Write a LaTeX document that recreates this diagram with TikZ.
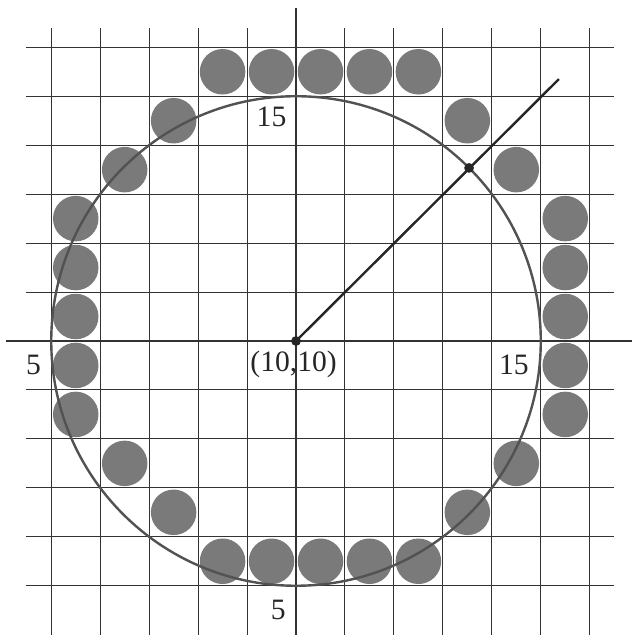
\documentclass[tikz,border=0pt]{standalone}
\usepackage{fontspec}
\setmainfont{Liberation Serif}
\begin{document}
\begin{tikzpicture}[x=1cm,y=1cm,
  gridline/.style={draw=black!80,line width=0.6pt},
  circ/.style={draw=black!68,line width=1.4pt},
  pix/.style={circle,fill=black!52,inner sep=0pt,minimum size=0.93cm},
  blackdot/.style={circle,fill=black!85,inner sep=0pt,minimum size=0.2cm},
  lab/.style={font=\fontsize{17.2}{19}\selectfont,inner sep=0pt,text=black!85}]
\useasboundingbox (3.953,3.994) rectangle (16.844,16.966);
% grid
\foreach \i in {5,...,16} {
  \draw[gridline] (\i,3.9) -- (\i,16.39);
  \draw[gridline] (4.48,\i) -- (16.49,\i);
}
\draw[gridline] (10,3.9) -- (10,16.81);
\draw[gridline] (4.08,10) -- (16.9,10);
% pixel dots
\foreach \x/\y [count=\k] in {8.5/15.5,9.5/15.5,10.5/15.5,11.5/15.5,12.5/15.5,
  8.5/5.5,9.5/5.5,10.5/5.5,11.5/5.5,12.5/5.5,
  5.5/8.5,5.5/9.5,5.5/10.5,5.5/11.5,5.5/12.5,
  15.5/8.5,15.5/9.5,15.5/10.5,15.5/11.5,15.5/12.5,
  7.5/14.5,6.5/13.5,6.5/7.5,7.5/6.5,13.5/6.5,14.5/7.5,14.5/13.5,13.5/14.5}
  \node[pix] (p\k) at (\x,\y) {};
% circle
\draw[circ] (10,10) circle (5);
% radius line
\node[blackdot] (c) at (10,10) {};
\coordinate (e) at (15.37,15.35);
\draw[black!85,line width=1.4pt] (c.center) -- (e);
\node[blackdot] (q) at ({10+5/sqrt(2)},{10+5/sqrt(2)}) {};
% labels
\node[lab] (l1) at (9.5,14.57) {15};
\node[lab] (l2) at (4.64,9.52) {5};
\node[lab] (l3) at (9.95,9.52) {(10,10)};
\node[lab] (l4) at (14.45,9.52) {15};
\node[lab] (l5) at (9.64,4.51) {5};
\end{tikzpicture}
\end{document}
